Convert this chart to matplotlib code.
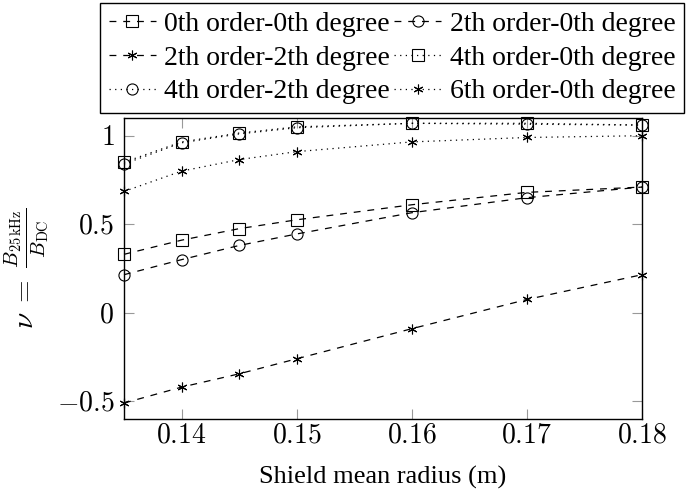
import numpy as np
import matplotlib
matplotlib.use('Agg')
import matplotlib.pyplot as plt
from matplotlib.ticker import FuncFormatter

plt.rcParams['font.family'] = ['Liberation Serif', 'DejaVu Serif']
plt.rcParams['mathtext.fontset'] = 'cm'

radius = [0.135, 0.14, 0.145, 0.15, 0.16, 0.17, 0.18]

o0_d0 = [0.33, 0.41, 0.475, 0.525, 0.61, 0.68, 0.71]
o2_d0 = [0.215, 0.30, 0.38, 0.445, 0.565, 0.65, 0.71]
o2_d2 = [-0.51, -0.42, -0.345, -0.26, -0.09, 0.075, 0.215]
o4_d0 = [0.85, 0.965, 1.015, 1.05, 1.07, 1.07, 1.06]
o4_d2 = [0.84, 0.96, 1.01, 1.045, 1.07, 1.065, 1.06]
o6_d0 = [0.685, 0.80, 0.865, 0.91, 0.965, 0.99, 1.0]

labels = ['0th order-0th degree', '2th order-0th degree', '2th order-2th degree',
          '4th order-0th degree', '4th order-2th degree', '6th order-0th degree']
series = [o0_d0, o2_d0, o2_d2, o4_d0, o4_d2, o6_d0]
star = (6, 2, 0)
markers = ['s', 'o', star, 's', 'o', star]
sizes = [8, 8, 7, 8, 8, 7]
dashed = (5.5, 5.5)
dotted = (1, 3.5)
styles = [dashed, dashed, dashed, dotted, dotted, dotted]

fig = plt.figure(figsize=(6.94, 4.97), dpi=100)
ax = fig.add_axes([124 / 694, 1 - 419 / 497, (642 - 124) / 694, (419 - 118) / 497])

handles = []
for y, m, ms, d, lab in zip(series, markers, sizes, styles, labels):
    h, = ax.plot(radius, y, color='black', lw=0.9, marker=m, markersize=ms,
                 markerfacecolor='none', markeredgewidth=0.8, label=lab,
                 clip_on=False)
    h.set_dashes(d)
    handles.append(h)

ax.set_xlim(0.135, 0.18)
ax.set_ylim(-0.6, 1.1)
ax.set_xticks([0.14, 0.15, 0.16, 0.17, 0.18])
ax.set_yticks([-0.5, 0, 0.5, 1])
fmt = FuncFormatter(lambda v, p: '$%g$' % round(v, 3))
ax.xaxis.set_major_formatter(fmt)
ax.yaxis.set_major_formatter(fmt)
ax.tick_params(direction='in', length=7, width=0.8, color='#999999',
               top=True, right=True, labelsize=20)
ax.tick_params(axis='x', pad=3)
ax.tick_params(axis='y', pad=7)
for s in ax.spines.values():
    s.set_linewidth(1.0)

ax.set_xlabel('Shield mean radius (m)', fontsize=19, labelpad=13)
ax.set_ylabel(r'$\nu\;=\;\frac{B_{25\,\mathrm{kHz}}}{B_{\mathrm{DC}}}$', fontsize=21, labelpad=4)

order = [0, 2, 4, 1, 3, 5]
leg = fig.legend([handles[i] for i in order], [labels[i] for i in order],
                 loc='upper center', bbox_to_anchor=(392 / 694, 1 - 3 / 497),
                 ncol=2, fontsize=20, frameon=True, fancybox=False,
                 edgecolor='black', framealpha=1, borderaxespad=0,
                 handlelength=1.7, handletextpad=0.3, columnspacing=0.15,
                 labelspacing=0.3, borderpad=0.3)
leg.get_frame().set_linewidth(1.0)

plt.savefig('out.png', dpi=100)
